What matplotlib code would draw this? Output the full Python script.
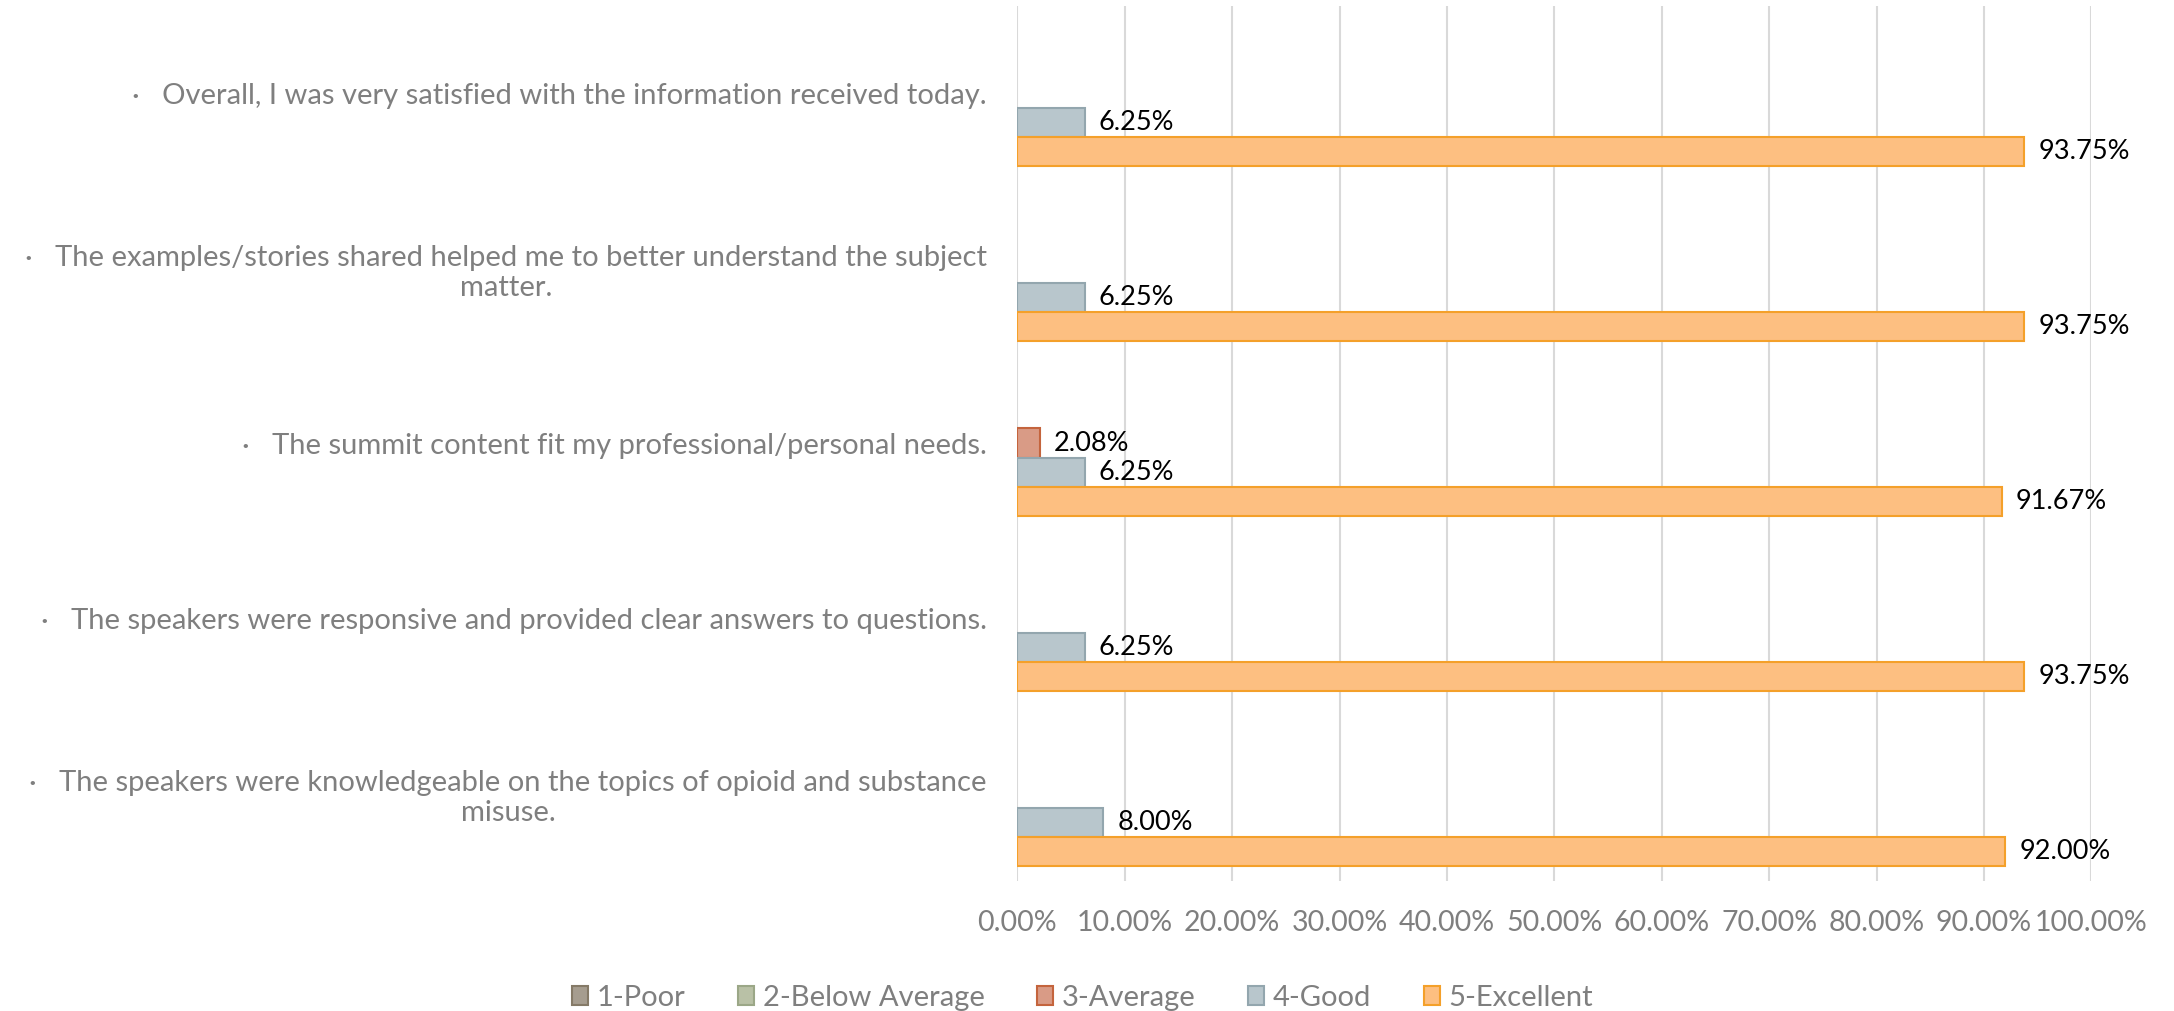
import matplotlib.pyplot as plt
from matplotlib.patches import Patch
import numpy as np

# Data
questions = [
    '·   Overall, I was very satisfied with the information received today.',
    '·   The examples/stories shared helped me to better understand the subject\nmatter.',
    '·   The summit content fit my professional/personal needs.',
    '·   The speakers were responsive and provided clear answers to questions.',
    '·   The speakers were knowledgeable on the topics of opioid and substance\nmisuse.',
]
series = ['1-Poor', '2-Below Average', '3-Average', '4-Good', '5-Excellent']
poor = [0, 0, 0, 0, 0]
below_avg = [0, 0, 0, 0, 0]
average = [0, 0, 2.08, 0, 0]
good = [6.25, 6.25, 6.25, 6.25, 8.00]
excellent = [93.75, 93.75, 91.67, 93.75, 92.00]
values = [poor, below_avg, average, good, excellent]

fills = ['#a69d8f', '#b9c1a6', '#d99b86', '#b8c6cc', '#fdbf81']
edges = ['#857a67', '#9ba787', '#c4643d', '#93a6ae', '#f4a02a']

plt.rcParams['font.family'] = ['Lato', 'DejaVu Sans']
gray = '#7f7f7f'

fig = plt.figure(figsize=(21.74, 10.11), dpi=100)
ax = fig.add_axes([0.468, 0.129, 0.494, 0.8655])

y = np.arange(len(questions))
h = 1 / 6
for i, vals in enumerate(values):
    pos = y + (i - 2) * h
    vals = np.array(vals, dtype=float)
    keep = vals > 0  # zero bars are not drawn
    bars = ax.barh(pos[keep], vals[keep], height=h, color=fills[i],
                   edgecolor=edges[i], linewidth=1.5, zorder=3)
    for b, v in zip(bars, vals[keep]):
        ax.annotate(f'{v:.2f}%', (v, b.get_y() + h / 2), xytext=(10, 0),
                    textcoords='offset points', va='center', ha='left',
                    fontsize=19.5, color='black')

ax.set_xlim(0, 100)
ax.set_ylim(len(questions) - 0.5, -0.5)
ax.set_xticks(range(0, 101, 10))
ax.set_xticklabels([f'{t:.2f}%' for t in range(0, 101, 10)])
ax.set_yticks(y)
ax.set_yticklabels(questions, multialignment='center')
ax.tick_params(axis='x', length=0, pad=21, labelsize=20.5, labelcolor=gray)
ax.tick_params(axis='y', length=0, pad=22, labelsize=21, labelcolor=gray)
ax.grid(axis='x', color='#d9d9d9', linewidth=1.5, zorder=0)
for s in ax.spines.values():
    s.set_visible(False)

handles = [Patch(facecolor=f, edgecolor=e, linewidth=1.5, label=n)
           for f, e, n in zip(fills, edges, series)]
fig.legend(handles=handles, loc='center', bbox_to_anchor=(0.498, 0.013),
           ncol=5, frameon=False, fontsize=21, labelcolor=gray,
           handlelength=0.55, handleheight=0.65, columnspacing=1.8,
           handletextpad=0.3)

fig.savefig('out.png', dpi=100)
